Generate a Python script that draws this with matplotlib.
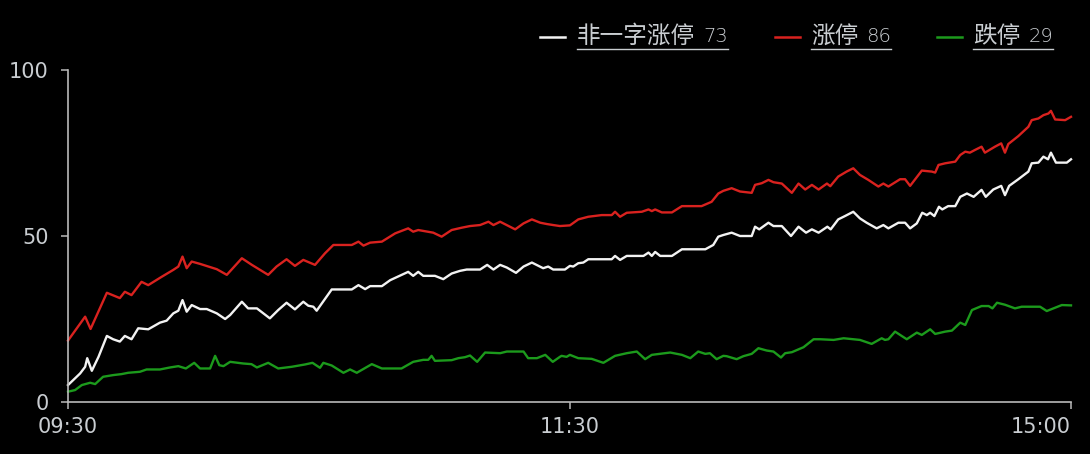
import matplotlib
matplotlib.use("Agg")
import matplotlib.pyplot as plt
from matplotlib.lines import Line2D

# ---- data (minutes since 09:30 on the trading clock, 0..240) ----
white_t = [0, 2.9, 4.1, 4.6, 5.7, 7.3, 9.3, 10.8, 12.4, 13.6, 15.2, 16.8, 19.2, 22, 23.6, 25.2, 26.4, 27.4, 28.4, 29.6,
           31.6, 33.2, 35.6, 37.6, 38.8, 41.6, 43.1, 45.2, 48.3, 50.3, 52.3, 54.3, 56.3, 57.5, 58.7, 59.5, 63.1, 67.9, 69.5,
           71.1, 72.3, 75.1, 77.1, 79, 81.4, 82.6, 83.8, 85, 87.8, 89.8, 91.8, 93.8, 95.4, 98.6, 100.3, 101.8, 103.4, 105,
           107.2, 109, 111, 112.6, 113.7, 114.9, 116.1, 118.9, 120.1, 120.9, 122.1, 123.3, 124.5, 130.1, 130.9, 132.1,
           133.7, 137.7, 138.9, 139.7, 140.5, 141.7, 144.5, 146.9, 152.5, 154.4, 155.6, 156.8, 158.8, 160.8, 163.6, 164.4,
           165.4, 167.6, 168.8, 170.8, 173, 174.8, 176.6, 178, 179.6, 181.7, 182.5, 184.3, 185.9, 187.9, 189.5, 191.1,
           193.5, 195.1, 196.3, 198.7, 200.3, 201.5, 203.1, 204.4, 205.5, 206.3, 207.3, 208.4, 209.2, 210.6, 212.3, 213.5,
           215.1, 216.7, 218.6, 219.6, 221.4, 223.3, 224.2, 225.2, 227.4, 229.8, 230.6, 232.2, 233.4, 234.5, 235.2, 236.4,
           239, 240]
white_v = [5.1, 8.6, 10.6, 13.2, 9.4, 13.6, 19.9, 18.9, 18.2, 19.9, 18.9, 22.2, 21.9, 23.9, 24.5, 26.7, 27.5, 30.7, 27.2,
           29.2, 28, 28, 26.7, 25, 26.2, 30.2, 28.2, 28.2, 25.2, 27.7, 29.9, 27.9, 30.2, 29, 28.7, 27.5, 33.9, 33.9, 35.2, 34,
           34.9, 34.9, 36.7, 37.8, 39.2, 38, 39.2, 38, 38, 37, 38.7, 39.5, 39.9, 39.9, 41.3, 39.9, 41.3, 40.5, 38.9, 40.8, 42,
           41, 40.3, 40.8, 39.9, 39.9, 41, 40.8, 41.8, 42, 43, 43, 44, 42.8, 44, 44, 45, 44, 45.2, 44, 44, 46, 46, 47.3, 49.8,
           50.3, 51, 50, 50, 52.8, 52, 54, 53, 53, 50, 52.8, 51, 52, 51, 52.8, 52, 55, 56, 57.3, 55.3, 54, 52.3, 53.3, 52.3,
           54, 54, 52.3, 53.8, 57, 56.3, 57, 56, 58.8, 58, 59, 59, 61.8, 62.8, 61.8, 63.9, 61.8, 64, 65.1, 62.3, 65.1, 67.1,
           69.4, 71.9, 72.1, 73.9, 73.1, 75.1, 72.1, 72.1, 73.1]

red_t = [0, 4.1, 5.4, 9.3, 12.4, 13.6, 15.2, 17.6, 19.2, 22.4, 25.2, 26.4, 27.4, 28.4, 29.6, 31.6, 35.6, 38, 41.6, 44,
         47.9, 49.9, 52.3, 54.3, 56.3, 59.1, 61.5, 63.5, 67.9, 69.5, 70.7, 72.3, 75.1, 78.3, 81.4, 82.6, 83.8, 87.4, 89.4,
         91.8, 94.2, 96.2, 98.6, 100.6, 101.8, 103.4, 107, 109, 111, 113, 114.6, 116.1, 117.7, 120.1, 122.1, 124.5, 127.7,
         130.1, 130.9, 132.1, 133.7, 137.3, 138.9, 139.7, 140.5, 142.1, 144.5, 146.9, 151.6, 154, 155.6, 156.8, 158.8,
         160.8, 163.6, 164.4, 166, 167.6, 168.8, 170.8, 173.2, 174.8, 176.4, 178, 179.6, 181.6, 182.4, 184.3, 186.3,
         187.9, 189.5, 191.5, 193.9, 195.1, 196.3, 199.1, 200.3, 201.5, 204.3, 206.7, 207.5, 208.3, 209.9, 212.3, 213.5,
         214.7, 215.8, 217, 218.6, 219.4, 221.8, 223.3, 224.2, 225, 227.4, 229.8, 230.6, 232.2, 233.4, 234.6, 235.2,
         236.2, 238.6, 240]
red_v = [18.5, 25.7, 22, 32.9, 31.3, 33.2, 32.2, 36.2, 35.2, 37.7, 39.8, 40.8, 43.8, 40.3, 42.3, 41.6, 40, 38.3, 43.3,
         41.3, 38.3, 40.8, 43, 41, 42.8, 41.3, 44.8, 47.3, 47.3, 48.3, 47.1, 48, 48.3, 50.8, 52.3, 51.3, 51.8, 51, 49.8,
         51.8, 52.5, 53, 53.3, 54.3, 53.3, 54.3, 52, 53.8, 55, 54, 53.6, 53.3, 53, 53.2, 55, 55.8, 56.3, 56.3, 57.3, 55.8,
         57, 57.3, 58, 57.5, 58, 57.1, 57.1, 59, 59, 60.3, 62.8, 63.6, 64.4, 63.4, 63, 65.4, 65.9, 66.9, 66.2, 65.8, 63,
         65.8, 64, 65.4, 64, 65.8, 65, 67.9, 69.4, 70.4, 68.4, 66.9, 64.9, 65.8, 64.9, 67.1, 67.1, 65.1, 69.7, 69.4, 69.1,
         71.4, 71.9, 72.4, 74.4, 75.4, 75.1, 75.9, 76.9, 75.1, 76.9, 77.9, 75.1, 77.7, 80.1, 82.9, 84.9, 85.4, 86.4, 86.9,
         87.7, 85.1, 84.9, 85.9]

green_t = [0, 1.7, 3.3, 5.3, 6.5, 8.4, 10.8, 12.8, 14.4, 17.2, 18.8, 22, 24.4, 26.4, 28.2, 30.2, 31.6, 34, 35.2, 36.2,
           37.2, 38.8, 41.9, 43.9, 45.2, 47.9, 50.3, 53.5, 56.7, 58.5, 60.3, 61.1, 63.1, 65.9, 67.5, 69.1, 72.7, 75.1, 78.3,
           79.8, 82.6, 85, 86.2, 87, 87.8, 91.8, 93.4, 95, 96.2, 97.9, 99.8, 103.4, 105, 109, 110.1, 112.2, 114.2, 116,
           117.7, 118.1, 119.3, 120.1, 122.1, 125.3, 128.1, 130.9, 133.7, 136.1, 138.1, 139.7, 144.1, 146.9, 148.9, 150.8,
           152.5, 153.6, 155.2, 156.8, 157.6, 160, 161.6, 163.6, 165.2, 167.2, 168.8, 170.6, 171.6, 173.2, 176, 178.4, 180,
           183.2, 185.6, 189.5, 192.3, 194.7, 195.5, 196.3, 197.9, 200.7, 203.1, 204.3, 206.3, 207.5, 209.9, 211.5, 213.5,
           214.7, 216.3, 218.6, 220.3, 221.2, 222.3, 224.2, 226.6, 228.2, 232.6, 234.2, 236.2, 237.8, 240]
green_v = [3.1, 3.6, 5.1, 5.8, 5.4, 7.6, 8.1, 8.4, 8.8, 9.1, 9.8, 9.8, 10.4, 10.8, 10.1, 11.8, 10.1, 10.1, 13.9, 11.1,
           10.8, 12.1, 11.6, 11.4, 10.4, 11.8, 10.1, 10.6, 11.3, 11.8, 10.3, 11.8, 11, 8.8, 9.8, 8.8, 11.4, 10.1, 10.1,
           10.1, 12.1, 12.7, 12.7, 13.9, 12.4, 12.6, 13.2, 13.5, 14, 12.1, 14.9, 14.7, 15.2, 15.2, 13.2, 13.2, 14.2, 12.1,
           13.6, 13.9, 13.6, 14.2, 13.2, 13, 11.8, 13.9, 14.7, 15.2, 12.9, 14.2, 14.9, 14.2, 13.2, 15.2, 14.5, 14.7, 12.9,
           13.9, 13.8, 12.9, 13.8, 14.5, 16.2, 15.5, 15.2, 13.4, 14.7, 15, 16.5, 18.9, 18.9, 18.7, 19.2, 18.7, 17.5, 19.2,
           18.7, 18.9, 21.2, 18.9, 20.9, 20.2, 21.9, 20.5, 21.2, 21.5, 23.9, 23.2, 27.7, 28.9, 28.9, 28.2, 29.9, 29.3, 28.2,
           28.7, 28.7, 27.4, 28.4, 29.2, 29.1]

series_names = ["非一字涨停", "涨停", "跌停"]
x_ticks = [0, 120, 240]
x_tick_labels = ["09:30", "11:30", "15:00"]
y_ticks = [0, 50, 100]

# ---- styling ----
W, H = 1090, 454
BG = "#000000"
AXIS_C = "#b9b9b9"
TEXT_C = "#c9cdd1"
C_WHITE = "#f2f2f2"
C_RED = "#d9221f"
C_GREEN = "#1c9a1c"
CJK = ["Noto Sans CJK SC", "DejaVu Sans"]

fig = plt.figure(figsize=(W / 100, H / 100), dpi=100, facecolor=BG)
ax = fig.add_axes([68 / W, 52 / H, 1003 / W, 332 / H], facecolor=BG)

series = [(white_t, white_v, C_WHITE), (red_t, red_v, C_RED), (green_t, green_v, C_GREEN)]
for t, v, c in series:
    ax.plot(t, v, color=c, lw=1.7, solid_joinstyle="round", clip_on=False)

ax.set_xlim(0, 240)
ax.set_ylim(0, 100)
for s in ["top", "right"]:
    ax.spines[s].set_visible(False)
for s in ["left", "bottom"]:
    ax.spines[s].set_color(AXIS_C)
    ax.spines[s].set_linewidth(1.2)
ax.set_xticks(x_ticks)
ax.set_xticklabels(x_tick_labels)
ax.set_yticks(y_ticks)
ax.tick_params(axis="both", colors=AXIS_C, length=5, width=1.1, direction="out",
               labelsize=15, labelcolor=TEXT_C)
ax.tick_params(axis="x", pad=6)
ax.tick_params(axis="y", pad=9)
for lab in ax.get_xticklabels() + ax.get_yticklabels():
    lab.set_fontfamily("DejaVu Sans")
xl = ax.get_xticklabels()
xl[-1].set_horizontalalignment("right")

# ---- custom legend with underlined labels ----
last_vals = [round(white_v[-1]), round(red_v[-1]), round(green_v[-1])]
colors = [C_WHITE, C_RED, C_GREEN]
handle_x = [540, 775, 937]
text_x = [577, 811, 973]
y_line = 37
y_text = 36
fig.canvas.draw()
renderer = fig.canvas.get_renderer()
for name, val, c, hx, tx in zip(series_names, last_vals, colors, handle_x, text_x):
    fig.add_artist(Line2D([hx / W, (hx + 25) / W], [1 - y_line / H, 1 - y_line / H],
                          color=c, lw=1.8, transform=fig.transFigure))
    t1 = fig.text(tx / W, 1 - y_text / H, name, color=TEXT_C, fontsize=17,
                  family=CJK, fontweight="light", ha="left", va="center")
    bb1 = t1.get_window_extent(renderer=renderer)
    t2 = fig.text((bb1.x1 + 8) / W, 1 - (y_text + 0.5) / H, str(val), color=TEXT_C, fontsize=14,
                  family="DejaVu Sans", fontweight="light", ha="left", va="center")
    bb2 = t2.get_window_extent(renderer=renderer)
    yu = 1 - 49 / H
    fig.add_artist(Line2D([bb1.x0 / W, bb2.x1 / W], [yu, yu], color=TEXT_C, lw=1.0,
                          transform=fig.transFigure))

fig.savefig("out.png", dpi=100, facecolor=BG)
